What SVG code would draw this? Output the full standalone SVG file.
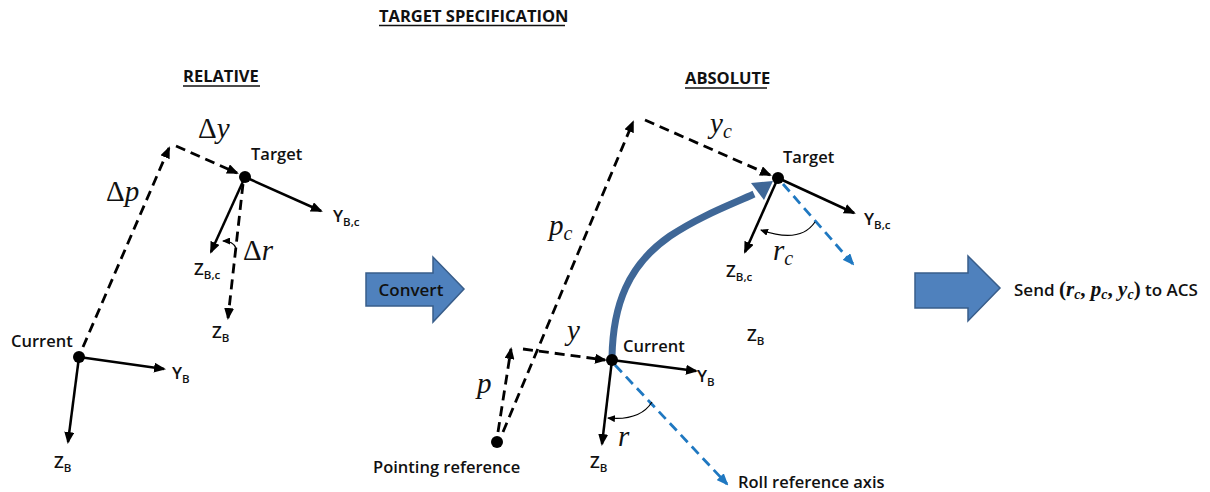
<svg xmlns="http://www.w3.org/2000/svg" width="1210" height="492" viewBox="0 0 1210 492">
<defs>
<style>
.lbl{font-family:"Open Sans","Liberation Sans",sans-serif;font-weight:600;fill:#111;}
.ttl{font-family:"Open Sans","Liberation Sans",sans-serif;font-weight:700;font-size:16.5px;fill:#111;}
.ax{font-family:"Open Sans","Liberation Sans",sans-serif;font-weight:600;font-size:17px;fill:#111;}
.sub{font-size:11.5px;}
.math{font-family:"Liberation Serif","DejaVu Serif",serif;font-style:italic;font-size:29px;fill:#111;}
.msub{font-size:20px;}
.solid{stroke:#000;stroke-width:2.5;fill:none;marker-end:url(#ah);}
.dash{stroke:#000;stroke-width:2.8;fill:none;stroke-dasharray:10 6;marker-end:url(#ah);}
.bdash{stroke:#1F78C1;stroke-width:2.8;fill:none;stroke-dasharray:10 6;marker-end:url(#ahb);}
.arc{stroke:#000;stroke-width:1.2;fill:none;marker-end:url(#ahs);}
.dot{fill:#000;}
.bigarrow{fill:#4F81BD;stroke:#385D8A;stroke-width:1.5;}
.uline{stroke:#111;stroke-width:1.3;}
.ms{font-family:"Liberation Serif","DejaVu Serif",serif;font-weight:700;}
</style>
<marker id="ah" markerUnits="userSpaceOnUse" markerWidth="12" markerHeight="10" refX="10" refY="5" orient="auto" viewBox="0 0 12 10">
<path d="M0,0 L12,5 L0,10 z" fill="#000"/>
</marker>
<marker id="ahb" markerUnits="userSpaceOnUse" markerWidth="12" markerHeight="10" refX="10" refY="5" orient="auto" viewBox="0 0 12 10">
<path d="M0,0 L12,5 L0,10 z" fill="#1F78C1"/>
</marker>
<marker id="ahs" markerUnits="userSpaceOnUse" markerWidth="8" markerHeight="7" refX="7" refY="3.5" orient="auto" viewBox="0 0 8 7">
<path d="M0,0 L8,3.5 L0,7 z" fill="#000"/>
</marker>
</defs>
<rect width="1210" height="492" fill="#fff"/>

<g id="titles">
<text class="ttl" x="379" y="22">TARGET SPECIFICATION</text>
<line class="uline" x1="379" y1="25.5" x2="565" y2="25.5"/>
<text class="ttl" x="183" y="82">RELATIVE</text>
<line class="uline" x1="183" y1="86" x2="260" y2="86"/>
<text class="ttl" x="685" y="84">ABSOLUTE</text>
<line class="uline" x1="685" y1="88" x2="767" y2="88"/>
</g>

<g id="connectors">
<!-- relative -->
<line class="dash" x1="83" y1="347" x2="169" y2="148"/>
<line class="dash" x1="176" y1="146" x2="237" y2="173"/>
<line class="solid" x1="79" y1="357" x2="164" y2="369"/>
<line class="solid" x1="79" y1="357" x2="68" y2="442"/>
<line class="solid" x1="245" y1="177" x2="321" y2="211"/>
<line class="solid" x1="245" y1="177" x2="211" y2="252"/>
<line class="dash" x1="243" y1="184" x2="228" y2="318"/>
<path class="arc" d="M236,248 Q233,241 223,241"/>
<!-- absolute -->
<line class="dash" x1="503" y1="432" x2="633" y2="122"/>
<line class="dash" x1="498" y1="432" x2="511" y2="349"/>
<line class="dash" x1="523" y1="349" x2="605" y2="360"/>
<line class="dash" x1="645" y1="120" x2="770" y2="175"/>
<line class="solid" x1="612" y1="360" x2="696" y2="371"/>
<line class="solid" x1="612" y1="360" x2="602" y2="444"/>
<line class="bdash" x1="615" y1="365" x2="727" y2="484"/>
<path class="arc" d="M652,402 Q640,421 608,418"/>
<line class="solid" x1="778" y1="178" x2="854" y2="213"/>
<line class="solid" x1="778" y1="178" x2="745" y2="252"/>
<line class="bdash" x1="783" y1="184" x2="853" y2="264"/>
<path class="arc" d="M815,222 Q800,244 761,230"/>
<path d="M612,357 C613,305 628,265 670,236 C700,216 730,205 754,194" stroke="#3F6797" stroke-width="7" fill="none"/>
<polygon points="773,181 764,200 751,183" fill="#3F6797"/>
</g>

<g id="rel-current">
<circle class="dot" cx="79" cy="357" r="6"/>
<text class="lbl" x="11" y="347" font-size="16.5">Current</text>
<text class="ax" x="172" y="379">Y<tspan class="sub" dy="4">B</tspan></text>
<text class="ax" x="54" y="468">Z<tspan class="sub" dy="4">B</tspan></text>
</g>

<g id="rel-target">
<circle class="dot" cx="245" cy="177" r="6"/>
<text class="lbl" x="251" y="160" font-size="16.5">Target</text>
<text class="ax" x="333" y="222">Y<tspan class="sub" dy="4">B,c</tspan></text>
<text class="ax" x="194" y="275">Z<tspan class="sub" dy="4">B,c</tspan></text>
<text class="ax" x="212" y="338">Z<tspan class="sub" dy="4">B</tspan></text>
</g>

<g id="rel-math">
<text class="math" x="106" y="201"><tspan font-style="normal">Δ</tspan>p</text>
<text class="math" x="198" y="138"><tspan font-style="normal">Δ</tspan>y</text>
<text class="math" x="243" y="260"><tspan font-style="normal">Δ</tspan>r</text>
</g>

<g id="convert-arrow">
<polygon class="bigarrow" points="366,273 433,273 433,257 464,289 433,322 433,306 366,306"/>
<text class="lbl" x="411" y="296" font-size="17" text-anchor="middle">Convert</text>
</g>

<g id="pointing-ref">
<circle class="dot" cx="497" cy="442" r="6"/>
<text class="lbl" x="373" y="473" font-size="16.5">Pointing reference</text>
</g>

<g id="abs-current">
<circle class="dot" cx="612" cy="360" r="6"/>
<text class="lbl" x="623" y="352" font-size="16.5">Current</text>
<text class="ax" x="697" y="382">Y<tspan class="sub" dy="4">B</tspan></text>
<text class="ax" x="590" y="468">Z<tspan class="sub" dy="4">B</tspan></text>
<text class="ax" x="747" y="341">Z<tspan class="sub" dy="4">B</tspan></text>
<text class="lbl" x="738" y="488" font-size="16.5">Roll reference axis</text>
</g>

<g id="abs-target">
<circle class="dot" cx="778" cy="178" r="6"/>
<text class="lbl" x="783" y="163" font-size="16.5">Target</text>
<text class="ax" x="864" y="225">Y<tspan class="sub" dy="4">B,c</tspan></text>
<text class="ax" x="726" y="277">Z<tspan class="sub" dy="4">B,c</tspan></text>
</g>

<g id="abs-math">
<text class="math" x="710" y="133">y<tspan class="msub" dy="5">c</tspan></text>
<text class="math" x="549" y="235">p<tspan class="msub" dy="5">c</tspan></text>
<text class="math" x="773" y="260">r<tspan class="msub" dy="5">c</tspan></text>
<text class="math" x="567" y="340">y</text>
<text class="math" x="477" y="393">p</text>
<text class="math" x="618" y="446">r</text>
</g>

<g id="send-arrow">
<polygon class="bigarrow" points="915,273 968,273 968,256 1000,288 968,321 968,308 915,308"/>
<text class="lbl" x="1014" y="296" font-size="17">Send <tspan class="ms" font-size="21" font-weight="400">(</tspan><tspan class="ms" font-size="21" font-style="italic">r</tspan><tspan class="ms" font-style="italic" font-size="14" dy="3">c</tspan><tspan class="ms" font-size="21" dy="-3">, </tspan><tspan class="ms" font-size="21" font-style="italic">p</tspan><tspan class="ms" font-style="italic" font-size="14" dy="3">c</tspan><tspan class="ms" font-size="21" dy="-3">, </tspan><tspan class="ms" font-size="21" font-style="italic">y</tspan><tspan class="ms" font-style="italic" font-size="14" dy="3">c</tspan><tspan class="ms" font-size="21" font-weight="400" dy="-3">)</tspan> to ACS</text>
</g>
</svg>
